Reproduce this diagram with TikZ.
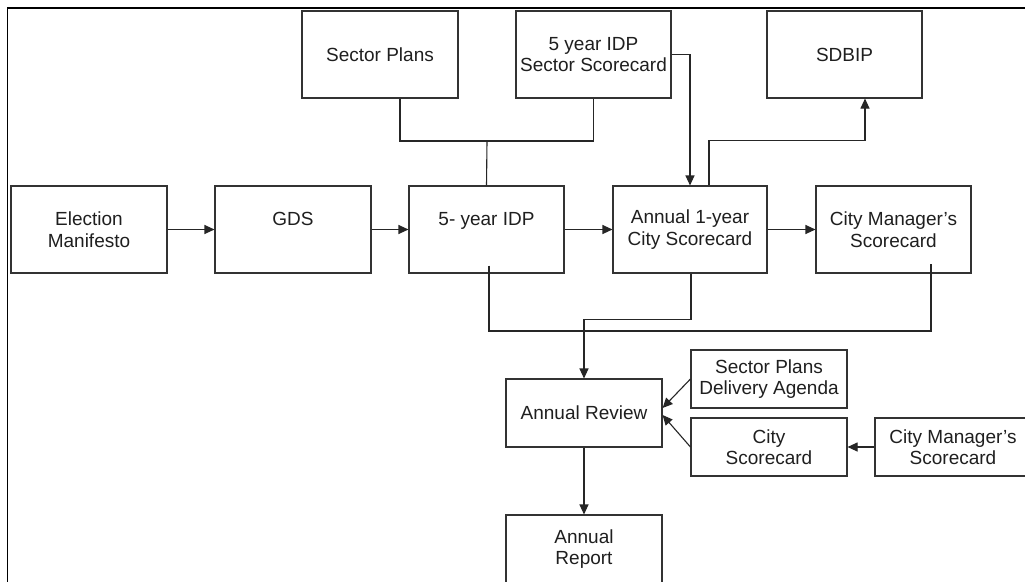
\documentclass[tikz,border=0pt]{standalone}
\usepackage{fontspec}
\setmainfont{Liberation Sans}
\usetikzlibrary{arrows.meta}
\tikzset{
  box/.style={draw=black!80, line width=1.1pt, fill=white, inner sep=0pt, align=center,
    text=black!88, font=\fontsize{19}{21.5}\selectfont},
  conn/.style={draw=black!85, line width=1.1pt},
  arr/.style={conn, -{Triangle[length=10pt,width=9pt]}},
}
\begin{document}
\begin{tikzpicture}[x=1pt,y=-1pt]
\useasboundingbox (0,0) rectangle (1025,581);
\clip (0,0) rectangle (1025,581);
\fill[white] (0,0) rectangle (1025,581);
% frame
\draw[black, line width=1.3pt] (1030,8) -- (7.5,8) -- (7.5,590);
% top row
\node[box, minimum width=156pt, minimum height=87pt] (SP) at (380,54.5) {Sector Plans};
\node[box, minimum width=155pt, minimum height=87pt] (SSC) at (593.5,54.5) {5 year IDP\\Sector Scorecard};
\node[box, minimum width=155pt, minimum height=87pt] (SDBIP) at (844.5,54.5) {SDBIP};
% middle row
\node[box, minimum width=156pt, minimum height=87pt] (EM) at (89,229.5) {Election\\Manifesto};
\node[box, minimum width=156pt, minimum height=87pt] (GDS) at (293,229.5) {GDS\\\mbox{}};
\node[box, minimum width=155pt, minimum height=87pt] (IDP) at (486.5,229.5) {5- year IDP\\\mbox{}};
\node[box, minimum width=154pt, minimum height=87pt] (AC) at (690,229.5) {Annual 1-year\\City Scorecard};
\node[box, minimum width=155pt, minimum height=87pt] (CM) at (893.5,229.5) {City Manager's\\Scorecard};
% lower part
\node[box, minimum width=156pt, minimum height=68pt] (AR) at (584,413) {Annual Review};
\node[box, minimum width=156pt, minimum height=68pt] (REP) at (584,549) {Annual\\Report};
\node[box, minimum width=156pt, minimum height=58pt] (SPDA) at (769,379) {Sector Plans\\Delivery Agenda};
\node[box, minimum width=156pt, minimum height=58pt] (CS) at (769,447) {City\\Scorecard};
\node[box, minimum width=156pt, minimum height=58pt] (CM2) at (953,447) {City Manager's\\Scorecard};
% junctions
\coordinate (j1) at (487,141);
\coordinate (j3) at (489,331);
% connectors
\draw[arr] (EM) -- (GDS);
\draw[arr] (GDS) -- (IDP);
\draw[arr] (IDP) -- (AC);
\draw[arr] (AC) -- (CM);
\draw[conn] ([xshift=20pt]SP.south) |- (j1) -| (SSC.south);
\draw[conn] (j1) -- (IDP.north);
\draw[arr] (SSC.east) -| (AC.north);
\draw[arr] ([xshift=19pt]AC.north) -- ++(0,-45) -| ([xshift=20.5pt]SDBIP.south);
\draw[conn] ([xshift=2.5pt,yshift=8pt]IDP.south) -- (j3) -| ([xshift=37.5pt,yshift=10pt]CM.south);
\draw[arr] ([xshift=1pt]AC.south) -- ++(0,46) -| (AR.north);
\draw[arr] (AR.south) -- (REP.north);
\draw[arr] (SPDA.west) -- ([yshift=5pt]AR.east);
\draw[arr] (CS.west) -- ([yshift=-2pt]AR.east);
\draw[arr] (CM2.west) -- (CS.east);
\end{tikzpicture}
\end{document}
